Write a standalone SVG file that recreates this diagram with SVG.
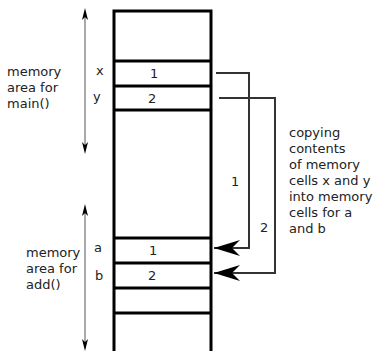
<svg xmlns="http://www.w3.org/2000/svg" width="373" height="351" viewBox="0 0 373 351">
<style>
text{font-family:"DejaVu Sans",sans-serif;font-size:13px;fill:#222}
.cell{fill:#fff;stroke:#000;stroke-width:3}
.conn{fill:none;stroke:#333;stroke-width:2}
.span{stroke:#555;stroke-width:1;fill:none}
</style>
<defs>
<marker id="barb" markerUnits="userSpaceOnUse" markerWidth="28" markerHeight="20" refX="26" refY="8" orient="auto" viewBox="0 0 28 16">
<path d="M26,8 L0,0 L8,8 L0,16 Z" fill="#000"/>
</marker>
</defs>
<g id="stack">
<rect class="cell" x="114" y="11" width="97" height="345"/>
<line class="cell" x1="114" y1="61" x2="211" y2="61"/>
<line class="cell" x1="114" y1="86" x2="211" y2="86"/>
<line class="cell" x1="114" y1="110" x2="211" y2="110"/>
<line class="cell" x1="114" y1="238" x2="211" y2="238"/>
<line class="cell" x1="114" y1="263" x2="211" y2="263"/>
<line class="cell" x1="114" y1="288" x2="211" y2="288"/>
<line class="cell" x1="114" y1="313" x2="211" y2="313"/>
</g>
<g id="cell-x"><text x="96" y="75">x</text><text x="150" y="78">1</text></g>
<g id="cell-y"><text x="93" y="101">y</text><text x="148" y="103">2</text></g>
<g id="cell-a"><text x="94" y="252">a</text><text x="149" y="255">1</text></g>
<g id="cell-b"><text x="95" y="280">b</text><text x="148" y="280">2</text></g>
<g id="main-area">
<path class="span" d="M85,12 V150"/>
<path d="M85,8 L88,20 L85,17 L82,20 Z M85,154 L88,142 L85,145 L82,142 Z" fill="#000"/>
<text x="7" y="76">memory</text><text x="7" y="92">area for</text><text x="7" y="108">main()</text>
</g>
<g id="add-area">
<path class="span" d="M85,208 V348"/>
<path d="M85,204 L88,216 L85,213 L82,216 Z M85,351 L88,339 L85,342 L82,339 Z" fill="#000"/>
<text x="26" y="257">memory</text><text x="26" y="273">area for</text><text x="26" y="289">add()</text>
</g>
<g id="note">
<text x="289" y="137">copying</text><text x="289" y="153">contents</text><text x="289" y="169">of memory</text><text x="289" y="185">cells x and y</text><text x="289" y="201">into memory</text><text x="289" y="217">cells for a</text><text x="289" y="233">and b</text>
</g>
<g id="connectors">
<path class="conn" d="M216,73 H249 V248 H214" marker-end="url(#barb)"/>
<path class="conn" d="M219,98 H275 V273 H214" marker-end="url(#barb)"/>
<text x="231" y="186">1</text>
<text x="260" y="232">2</text>
</g>
</svg>
